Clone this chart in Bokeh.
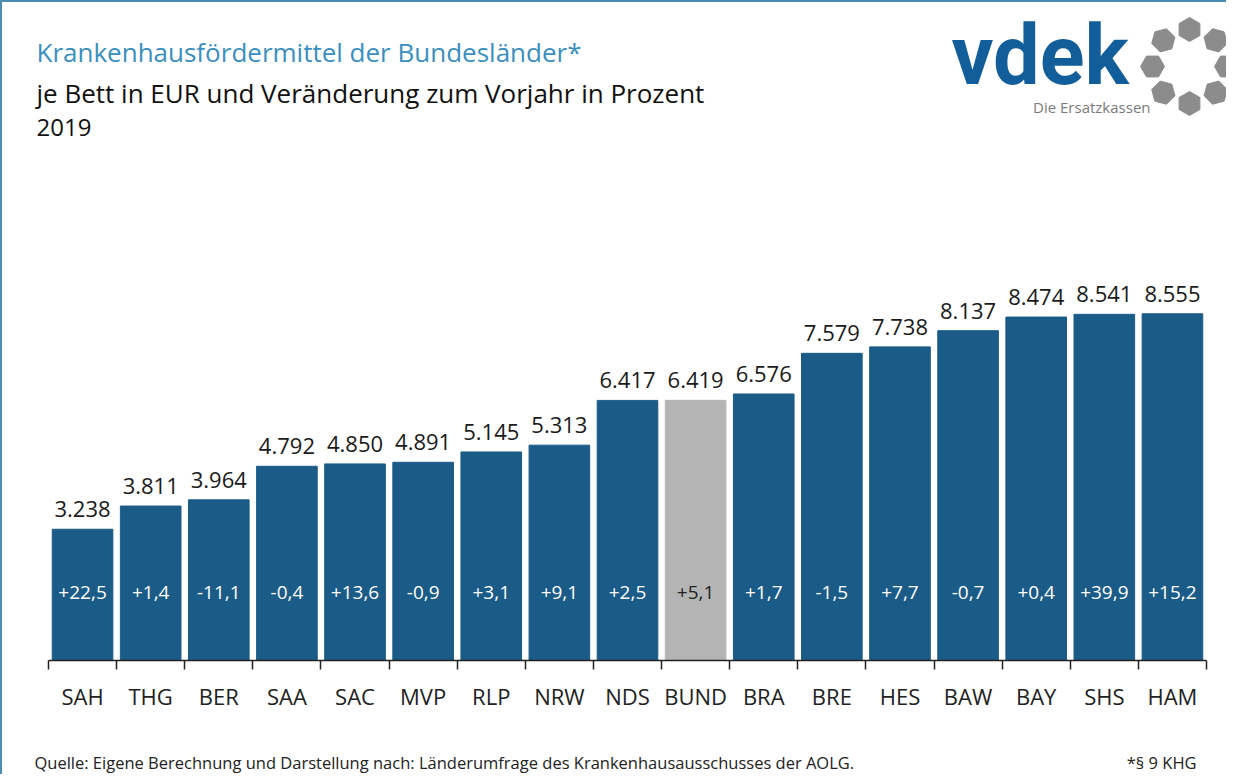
import math
from bokeh.plotting import figure
from bokeh.models import (ColumnDataSource, Range1d, LinearAxis, FixedTicker, Label)
from bokeh.core.properties import value
from bokeh.embed import file_html
from bokeh.resources import INLINE

# ---- data ----
categories = ["SAH", "THG", "BER", "SAA", "SAC", "MVP", "RLP", "NRW", "NDS",
              "BUND", "BRA", "BRE", "HES", "BAW", "BAY", "SHS", "HAM"]
betrag_je_bett = [3238, 3811, 3964, 4792, 4850, 4891, 5145, 5313, 6417,
                  6419, 6576, 7579, 7738, 8137, 8474, 8541, 8555]
veraenderung = [22.5, 1.4, -11.1, -0.4, 13.6, -0.9, 3.1, 9.1, 2.5,
                5.1, 1.7, -1.5, 7.7, -0.7, 0.4, 39.9, 15.2]
highlight = "BUND"

BLUE = "#1b5b87"
GRAY = "#b4b4b4"
FONT = "Open Sans"

def fmt_val(v):
    return f"{v:,}".replace(",", ".")

def fmt_pct(v):
    s = f"{abs(v):.1f}".replace(".", ",")
    return ("+" if v >= 0 else "-") + s

n = len(categories)
xc = [i + 0.5 for i in range(n)]
src = ColumnDataSource(dict(
    x=xc, top=betrag_je_bett, cat=categories,
    color=[GRAY if c == highlight else BLUE for c in categories],
    pcol=["#222222" if c == highlight else "white" for c in categories],
    vlab=[fmt_val(v) for v in betrag_je_bett],
    plab=[fmt_pct(v) for v in veraenderung],
    zero=[0] * n,
))

# ---- layout geometry (page pixels) ----
W, H = 1226, 774
OX, OY = 2, 2                 # canvas origin on the page (after the 2px border)
AX_L, AX_R, BASE = 48, 1206, 660
PX_PER_UNIT_Y = 0.04053
MB = OY + H - BASE            # bottom border below baseline
frame_h = H - MB
px_per_cat = (AX_R - AX_L) / n
x_start = -(AX_L - OX) / px_per_cat
x_end = n + (OX + W - AX_R) / px_per_cat
y_end = frame_h / PX_PER_UNIT_Y

p = figure(width=W, height=H, output_backend="svg", toolbar_location=None,
           x_range=Range1d(x_start, x_end), y_range=Range1d(0, y_end),
           x_axis_location=None, y_axis_location=None,
           min_border_left=0, min_border_right=0,
           min_border_top=0, min_border_bottom=MB)
p.outline_line_color = None
p.grid.visible = False
p.background_fill_color = "white"
p.border_fill_color = "white"
p.styles = {"border-top": "2px solid #4a8fb3", "border-left": "2px solid #4a8fb3"}

p.vbar(x="x", top="top", width=0.89, bottom=0, color="color", source=src)

p.text(x="x", y="top", text="vlab", source=src, text_align="center",
       text_baseline="middle", y_offset=-20, text_font=value(FONT),
       text_font_size="22px", text_color="#1a1a1a")
p.text(x="x", y="zero", text="plab", source=src, text_align="center",
       text_baseline="middle", y_offset=-68, text_font=value(FONT),
       text_font_size="19px", text_color="pcol")

# footer line (source left, footnote right), shown as the axis label
footer = ("Quelle: Eigene Berechnung und Darstellung nach: Länderumfrage des "
          "Krankenhausausschusses der AOLG." + "\u2003" * 16 + "\u00a0" * 2 + "*§ 9 KHG")

# x axis: labels at centres, ticks at category boundaries
ax = LinearAxis(ticker=FixedTicker(ticks=xc, minor_ticks=list(range(n + 1))),
                bounds=(0, n), axis_label=footer)
ax.major_label_overrides = {x: c for x, c in zip(xc, categories)}
ax.major_tick_line_color = None
ax.major_tick_out = 0
ax.major_tick_in = 0
ax.minor_tick_out = 9
ax.minor_tick_in = 0
ax.minor_tick_line_color = "#222222"
ax.minor_tick_line_width = 1.5
ax.axis_line_color = "#222222"
ax.axis_line_width = 1.5
ax.major_label_standoff = 11
ax.major_label_text_font = FONT
ax.major_label_text_font_size = "22px"
ax.major_label_text_color = "#222222"
ax.axis_label_standoff = 37
ax.axis_label_text_font = FONT
ax.axis_label_text_font_size = "16.5px"
ax.axis_label_text_font_style = "normal"
ax.axis_label_text_color = "#222222"
p.add_layout(ax, "below")

# ---- header texts (screen units relative to the frame's bottom-left) ----
def lab(text, sx, sy, size, color="#111111", align="left", style="normal", font=FONT):
    p.add_layout(Label(x=sx - OX, y=BASE - sy, x_units="screen", y_units="screen",
                       text=text, text_font=font, text_font_size=size,
                       text_color=color, text_align=align, text_baseline="middle",
                       text_font_style=style))

lab("Krankenhausfördermittel der Bundesländer*", 36, 51, "26px", color="#3a8fbf")
lab("je Bett in EUR und Veränderung zum Vorjahr in Prozent", 36, 92, "26px")
lab("2019", 36, 127, "24px")

# logo
lab("vdek", 951, 55, "83px", color="#115e9a", style="bold", font="Roboto")
lab("Die Ersatzkassen", 1150, 106, "15px", color="#7a7a7a", align="right")

def dx(sx):
    return x_start + (sx - OX) / px_per_cat
def dy(sy):
    return (BASE - sy) / PX_PER_UNIT_Y

cx, cy, r = 1189, 66, 37
hx, hy, ha = [], [], []
for k in range(8):
    a = math.pi / 2 - k * math.pi / 4
    hx.append(dx(cx + r * math.cos(a)))
    hy.append(dy(cy - r * math.sin(a)))
    ha.append(a)
p.scatter(x=hx, y=hy, marker="hex", size=24, angle=ha, color="#8c8c8c")

open("out.html", "w").write(file_html(p, INLINE))
